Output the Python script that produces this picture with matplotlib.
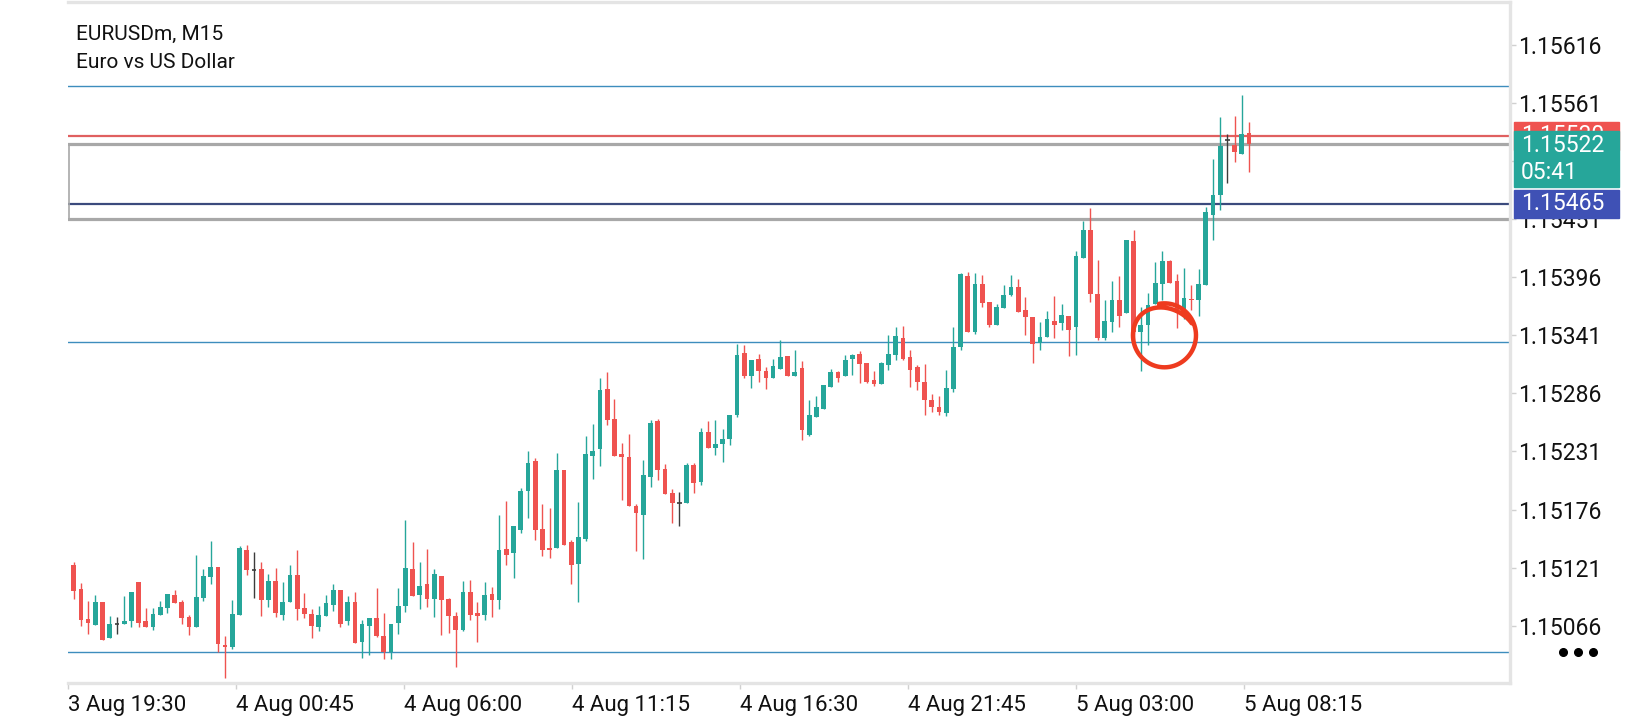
import numpy as np
import matplotlib
matplotlib.use("Agg")
import matplotlib.pyplot as plt
from matplotlib.patches import Rectangle
from matplotlib.lines import Line2D

plt.rcParams['font.family'] = ['Roboto', 'DejaVu Sans']

# EURUSDm M15 candles (oldest first)
opens = [1.15123, 1.15101, 1.15072, 1.15067, 1.15088, 1.15054, 1.15068, 1.15068, 1.15070, 1.15107,
         1.15070, 1.15065, 1.15076, 1.15083, 1.15095, 1.15088, 1.15074, 1.15065, 1.15092, 1.15112,
         1.15122, 1.15048, 1.15046, 1.15076, 1.15138, 1.15119, 1.15120, 1.15090, 1.15108, 1.15076,
         1.15088, 1.15114, 1.15083, 1.15077, 1.15065, 1.15075, 1.15086, 1.15100, 1.15070, 1.15088,
         1.15051, 1.15066, 1.15073, 1.15056, 1.15041, 1.15069, 1.15085, 1.15120, 1.15095, 1.15105,
         1.15091, 1.15113, 1.15091, 1.15075, 1.15062, 1.15098, 1.15078, 1.15076, 1.15096, 1.15090,
         1.15139, 1.15135, 1.15157, 1.15194, 1.15222, 1.15158, 1.15140, 1.15140, 1.15213, 1.15145,
         1.15124, 1.15148, 1.15227, 1.15233, 1.15290, 1.15262, 1.15229, 1.15226, 1.15179, 1.15171,
         1.15207, 1.15260, 1.15214, 1.15192, 1.15182, 1.15182, 1.15218, 1.15202, 1.15249, 1.15234,
         1.15238, 1.15243, 1.15266, 1.15324, 1.15302, 1.15319, 1.15307, 1.15301, 1.15309, 1.15321,
         1.15302, 1.15310, 1.15247, 1.15264, 1.15271, 1.15292, 1.15306, 1.15302, 1.15319, 1.15323,
         1.15315, 1.15299, 1.15295, 1.15313, 1.15322, 1.15338, 1.15320, 1.15311, 1.15297, 1.15280,
         1.15273, 1.15267, 1.15290, 1.15330, 1.15397, 1.15344, 1.15390, 1.15373, 1.15351, 1.15367,
         1.15379, 1.15387, 1.15365, 1.15358, 1.15334, 1.15339, 1.15355, 1.15353, 1.15359, 1.15349,
         1.15414, 1.15441, 1.15380, 1.15338, 1.15354, 1.15374, 1.15362, 1.15430, 1.15344, 1.15351,
         1.15371, 1.15390, 1.15411, 1.15392, 1.15362, 1.15375, 1.15374, 1.15389, 1.15455, 1.15474,
         1.15526, 1.15521, 1.15513, 1.15533]
highs = [1.15126, 1.15106, 1.15089, 1.15095, 1.15088, 1.15075, 1.15074, 1.15094, 1.15098, 1.15107,
         1.15083, 1.15083, 1.15089, 1.15096, 1.15100, 1.15090, 1.15076, 1.15133, 1.15120, 1.15146,
         1.15122, 1.15056, 1.15090, 1.15141, 1.15142, 1.15136, 1.15126, 1.15115, 1.15121, 1.15107,
         1.15123, 1.15138, 1.15097, 1.15082, 1.15085, 1.15095, 1.15105, 1.15100, 1.15094, 1.15098,
         1.15071, 1.15073, 1.15102, 1.15078, 1.15068, 1.15102, 1.15166, 1.15145, 1.15126, 1.15139,
         1.15120, 1.15113, 1.15092, 1.15079, 1.15108, 1.15109, 1.15088, 1.15107, 1.15103, 1.15171,
         1.15184, 1.15160, 1.15196, 1.15231, 1.15225, 1.15181, 1.15177, 1.15230, 1.15213, 1.15147,
         1.15183, 1.15246, 1.15257, 1.15301, 1.15306, 1.15281, 1.15239, 1.15248, 1.15181, 1.15223,
         1.15261, 1.15262, 1.15219, 1.15195, 1.15193, 1.15220, 1.15220, 1.15253, 1.15260, 1.15261,
         1.15252, 1.15266, 1.15333, 1.15332, 1.15318, 1.15323, 1.15311, 1.15319, 1.15337, 1.15321,
         1.15327, 1.15317, 1.15280, 1.15284, 1.15294, 1.15309, 1.15307, 1.15322, 1.15323, 1.15326,
         1.15315, 1.15307, 1.15316, 1.15341, 1.15349, 1.15350, 1.15327, 1.15313, 1.15314, 1.15285,
         1.15284, 1.15308, 1.15349, 1.15400, 1.15401, 1.15400, 1.15398, 1.15373, 1.15371, 1.15389,
         1.15398, 1.15394, 1.15377, 1.15358, 1.15354, 1.15364, 1.15378, 1.15371, 1.15359, 1.15421,
         1.15449, 1.15462, 1.15412, 1.15374, 1.15392, 1.15397, 1.15431, 1.15441, 1.15368, 1.15381,
         1.15410, 1.15421, 1.15412, 1.15399, 1.15405, 1.15389, 1.15404, 1.15463, 1.15508, 1.15548,
         1.15532, 1.15549, 1.15569, 1.15543]
lows = [1.15091, 1.15066, 1.15058, 1.15067, 1.15052, 1.15054, 1.15058, 1.15068, 1.15065, 1.15065,
        1.15065, 1.15062, 1.15076, 1.15078, 1.15087, 1.15068, 1.15057, 1.15065, 1.15089, 1.15105,
        1.15041, 1.15016, 1.15044, 1.15076, 1.15114, 1.15092, 1.15075, 1.15084, 1.15074, 1.15071,
        1.15088, 1.15071, 1.15073, 1.15054, 1.15061, 1.15075, 1.15080, 1.15065, 1.15067, 1.15050,
        1.15035, 1.15038, 1.15055, 1.15034, 1.15034, 1.15058, 1.15079, 1.15094, 1.15082, 1.15084,
        1.15074, 1.15057, 1.15059, 1.15027, 1.15061, 1.15071, 1.15051, 1.15071, 1.15074, 1.15082,
        1.15123, 1.15111, 1.15154, 1.15168, 1.15147, 1.15132, 1.15130, 1.15140, 1.15142, 1.15105,
        1.15088, 1.15146, 1.15205, 1.15217, 1.15256, 1.15227, 1.15185, 1.15179, 1.15137, 1.15129,
        1.15197, 1.15204, 1.15191, 1.15163, 1.15160, 1.15182, 1.15192, 1.15199, 1.15234, 1.15228,
        1.15221, 1.15237, 1.15264, 1.15301, 1.15291, 1.15297, 1.15290, 1.15301, 1.15309, 1.15302,
        1.15302, 1.15242, 1.15246, 1.15264, 1.15271, 1.15292, 1.15297, 1.15302, 1.15303, 1.15296,
        1.15296, 1.15293, 1.15295, 1.15308, 1.15318, 1.15318, 1.15292, 1.15289, 1.15266, 1.15268,
        1.15266, 1.15265, 1.15287, 1.15327, 1.15344, 1.15342, 1.15368, 1.15349, 1.15351, 1.15367,
        1.15378, 1.15363, 1.15341, 1.15315, 1.15327, 1.15339, 1.15338, 1.15346, 1.15321, 1.15322,
        1.15414, 1.15373, 1.15337, 1.15337, 1.15344, 1.15349, 1.15362, 1.15337, 1.15307, 1.15332,
        1.15371, 1.15374, 1.15391, 1.15348, 1.15356, 1.15365, 1.15359, 1.15389, 1.15431, 1.15460,
        1.15485, 1.15505, 1.15513, 1.15496]
closes = [1.15099, 1.15071, 1.15069, 1.15088, 1.15052, 1.15068, 1.15068, 1.15070, 1.15098, 1.15069,
          1.15065, 1.15077, 1.15084, 1.15096, 1.15087, 1.15073, 1.15065, 1.15093, 1.15113, 1.15122,
          1.15049, 1.15046, 1.15077, 1.15140, 1.15119, 1.15119, 1.15090, 1.15108, 1.15078, 1.15088,
          1.15114, 1.15082, 1.15077, 1.15066, 1.15076, 1.15087, 1.15100, 1.15068, 1.15088, 1.15050,
          1.15068, 1.15073, 1.15056, 1.15041, 1.15068, 1.15085, 1.15121, 1.15094, 1.15104, 1.15091,
          1.15115, 1.15090, 1.15075, 1.15062, 1.15098, 1.15076, 1.15075, 1.15095, 1.15090, 1.15138,
          1.15133, 1.15160, 1.15194, 1.15220, 1.15157, 1.15138, 1.15138, 1.15213, 1.15142, 1.15123,
          1.15150, 1.15229, 1.15231, 1.15289, 1.15261, 1.15227, 1.15226, 1.15179, 1.15173, 1.15209,
          1.15258, 1.15213, 1.15191, 1.15182, 1.15182, 1.15218, 1.15201, 1.15249, 1.15234, 1.15238,
          1.15243, 1.15266, 1.15322, 1.15302, 1.15318, 1.15307, 1.15301, 1.15312, 1.15320, 1.15302,
          1.15306, 1.15251, 1.15266, 1.15273, 1.15294, 1.15306, 1.15301, 1.15318, 1.15322, 1.15314,
          1.15297, 1.15295, 1.15315, 1.15323, 1.15340, 1.15319, 1.15308, 1.15297, 1.15280, 1.15273,
          1.15268, 1.15291, 1.15330, 1.15399, 1.15344, 1.15390, 1.15372, 1.15351, 1.15368, 1.15379,
          1.15387, 1.15363, 1.15358, 1.15333, 1.15339, 1.15356, 1.15351, 1.15360, 1.15346, 1.15416,
          1.15441, 1.15380, 1.15338, 1.15355, 1.15374, 1.15359, 1.15431, 1.15344, 1.15351, 1.15370,
          1.15391, 1.15411, 1.15391, 1.15362, 1.15376, 1.15374, 1.15390, 1.15458, 1.15474, 1.15520,
          1.15526, 1.15515, 1.15532, 1.15522]

time_labels = ["3 Aug 19:30", "4 Aug 00:45", "4 Aug 06:00", "4 Aug 11:15",
               "4 Aug 16:30", "4 Aug 21:45", "5 Aug 03:00", "5 Aug 08:15"]
price_ticks = [1.15066, 1.15121, 1.15176, 1.15231, 1.15286, 1.15341,
               1.15396, 1.15451, 1.15506, 1.15561, 1.15616]

# horizontal objects on the chart
hline_top = 1.15577
hline_mid = 1.15335
hline_bot = 1.15041
ask_line = 1.15530
bid_line = 1.15522
blue_line = 1.15465
rect_top = 1.15522
rect_bot = 1.15451

UP = '#26a69a'
DOWN = '#ef5350'
DOJI = '#3c3c3c'
LINE_BLUE = '#3d8dbd'

o = np.array(opens); h = np.array(highs); l = np.array(lows); c = np.array(closes)
idx = np.arange(len(o))
colors = np.where(c > o, UP, np.where(c < o, DOWN, DOJI))

fig = plt.figure(figsize=(16.4, 7.2), dpi=100)
ax = fig.add_axes([68 / 1640, 1 - 683 / 720, (1510 - 68) / 1640, (683 - 2) / 720])

ax.set_xlim(-0.79, 199.2)
ax.set_ylim(1.150117, 1.156567)

# levels
for y, col, lw in [(hline_top, LINE_BLUE, 1.0), (hline_mid, LINE_BLUE, 1.0), (hline_bot, LINE_BLUE, 1.0),
                   (ask_line, '#e06060', 1.6), (bid_line, '#a8a8a8', 2.3),
                   (blue_line, '#3b4a7d', 1.6), (rect_bot, '#a8a8a8', 2.3)]:
    ax.axhline(y, color=col, lw=lw, zorder=1)
ax.vlines(-0.6, rect_bot, rect_top, color='#a8a8a8', lw=1.2, zorder=1)

# candles
ax.vlines(idx, l, h, colors=colors, lw=1.0, zorder=2)
body_lo = np.minimum(o, c)
body_h = np.maximum(np.abs(c - o), 0.000006)
mask = c != o
ax.bar(idx[mask], body_h[mask], bottom=body_lo[mask], width=0.66,
       color=colors[mask], linewidth=0, zorder=3)
ax.hlines(o[~mask], idx[~mask] - 0.33, idx[~mask] + 0.33, colors=DOJI, lw=1.2, zorder=3)

# hand drawn red loop around the dip
phi = np.radians(np.linspace(100, -330, 300))
sy = np.where(phi > np.radians(-200), 1.0,
              1.0 - 0.25 * (np.radians(-200) - phi) / np.radians(130))
cx, cy, a, b = 151.28, 1.15341, 4.37, 0.000303
ax.plot(cx + a * np.cos(phi), cy + b * sy * np.sin(phi), color='#ee3b1f', lw=3.2,
        solid_capstyle='round', zorder=6)

# axes styling
for s in ['top', 'right', 'bottom']:
    ax.spines[s].set_color('#e4e4e4')
    ax.spines[s].set_linewidth(2.4)
ax.spines['left'].set_visible(False)

ax.yaxis.tick_right()
ax.set_yticks(price_ticks)
ax.set_yticklabels([f"{p:.5f}" for p in price_ticks])
ax.tick_params(axis='y', length=4, width=1, color='#d0d0d0', pad=2, labelsize=16.5, labelcolor='#111111')

tick_pos = [-0.79 + 23.3 * k for k in range(len(time_labels))]
ax.set_xticks(tick_pos)
ax.set_xticklabels(time_labels, ha='left')
ax.tick_params(axis='x', length=4, width=1, color='#d0d0d0', pad=5, labelsize=16, labelcolor='#111111')

# title
fig.text(76 / 1640, 1 - 34 / 720, "EURUSDm, M15", fontsize=15, va='center', color='#111111')
fig.text(76 / 1640, 1 - 63 / 720, "Euro vs US Dollar", fontsize=15, va='center', color='#111111')

# price labels on the right, stacked: ask (red) under bid (teal), blue level on top
def box(y0, y1, color, z):
    fig.add_artist(Rectangle((1514 / 1640, 1 - y1 / 720), 105 / 1640, (y1 - y0) / 720,
                             transform=fig.transFigure, color=color, zorder=z))

def label(y, s, z):
    fig.text(1521 / 1640, 1 - y / 720, s, fontsize=16.5, color='white', va='center', zorder=z)

box(122, 150, DOWN, 20)
label(136, f"{ask_line:.5f}", 21)
box(131, 187, UP, 22)
label(145, f"{bid_line:.5f}", 23)
label(172.5, "05:41", 23)
box(190, 218, '#3f51b5', 24)
label(204, f"{blue_line:.5f}", 25)

fig.add_artist(Line2D([1563 / 1640, 1578 / 1640, 1593 / 1640], [1 - 652 / 720] * 3, ls='none',
                      marker='o', ms=5.5, color='black', transform=fig.transFigure))

fig.savefig("out.png", dpi=100)
